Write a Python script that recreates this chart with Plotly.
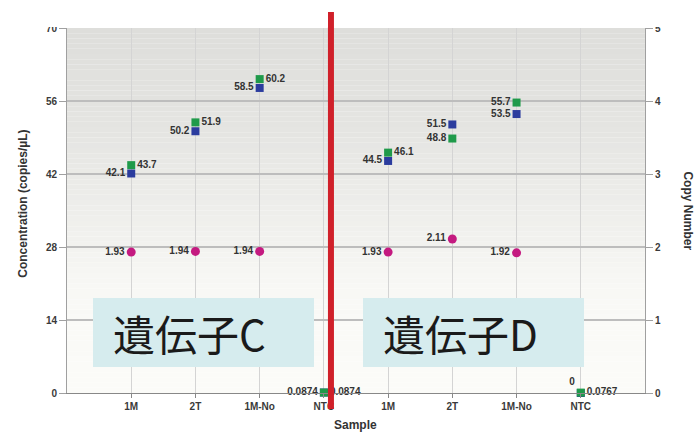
import plotly.graph_objects as go

# Samples on the x axis (gene C block, then gene D block)
categories = ["1M", "2T", "1M-No", "NTC", "1M", "2T", "1M-No", "NTC"]

# Droplet concentrations (copies/µL)
green_conc = [43.7, 51.9, 60.2, 0.0874, 46.1, 48.8, 55.7, 0.0767]
blue_conc = [42.1, 50.2, 58.5, 0.0874, 44.5, 51.5, 53.5, 0]

# Copy number (right axis); none reported for NTC
copy_number = [1.93, 1.94, 1.94, None, 1.93, 2.11, 1.92, None]

# Concentration axis ticks and copy-number axis ticks
conc_ticks = [0, 14, 28, 42, 56, 70]
cn_ticks = [0, 1, 2, 3, 4, 5]

# Gene panel labels
gene_labels = ["遺伝子C", "遺伝子D"]

# label placement per point
green_pos = ["middle right"] * 4 + ["middle right", "middle left", "middle left", "middle right"]
blue_pos = ["middle left"] * 4 + ["middle left", "middle left", "middle left", "top left"]

GREEN = "#1f9a4a"
BLUE = "#2b3c9e"
MAGENTA = "#c41a80"
LABEL_FONT = dict(family="Liberation Sans", size=10, color="#333333", weight="bold")

xs = list(range(len(categories)))


def fmt(v):
    return f"{v:g}"


fig = go.Figure()

fig.add_trace(go.Scatter(
    x=xs, y=blue_conc, mode="markers+text",
    marker=dict(symbol="square", size=8, color=BLUE),
    text=[fmt(v) for v in blue_conc], textposition=blue_pos,
    textfont=LABEL_FONT, cliponaxis=False, showlegend=False,
))
fig.add_trace(go.Scatter(
    x=xs, y=green_conc, mode="markers+text",
    marker=dict(symbol="square", size=8, color=GREEN),
    text=[fmt(v) for v in green_conc], textposition=green_pos,
    textfont=LABEL_FONT, cliponaxis=False, showlegend=False,
))
cn_x = [x for x, v in zip(xs, copy_number) if v is not None]
cn_y = [v for v in copy_number if v is not None]
fig.add_trace(go.Scatter(
    x=cn_x, y=cn_y, yaxis="y2", mode="markers+text",
    marker=dict(symbol="circle", size=9, color=MAGENTA),
    text=[fmt(v) for v in cn_y], textposition="middle left",
    textfont=LABEL_FONT, cliponaxis=False, showlegend=False,
))

# plot-area shading: grey at the top fading to near white at the bottom
shapes = []
stops = [(0, 251), (14, 250), (22, 247), (30, 241), (40, 235), (50, 229), (60, 225), (70, 222)]


def grey_at(y):
    for (y0, g0), (y1, g1) in zip(stops, stops[1:]):
        if y0 <= y <= y1:
            return g0 + (g1 - g0) * (y - y0) / (y1 - y0)
    return stops[-1][1]


step = 1.0
y = 0.0
while y < 70:
    g = grey_at(y + step / 2)
    c = f"rgb({g:.0f},{g:.0f},{g - 3:.0f})"
    shapes.append(dict(type="rect", xref="x", yref="y", x0=-1, x1=8, y0=y, y1=y + step,
                       fillcolor=c, line=dict(width=0), layer="below"))
    y += step

# gene panel boxes
box_spans = [(-0.595, 2.846), (3.609, 7.05)]
for x0, x1 in box_spans:
    shapes.append(dict(type="rect", xref="x", yref="y", x0=x0, x1=x1, y0=5.0, y1=18.2,
                       fillcolor="#d6ecee", line=dict(width=0), layer="above"))

# red divider between the two gene blocks
shapes.append(dict(type="line", xref="x", yref="paper", x0=3.11, x1=3.11, y0=-0.044, y1=1.044,
                   line=dict(color="#d0202a", width=6), layer="above"))

annotations = []

# blank strip along the top edge, either side of the divider
for x0, x1 in [(-0.12, 0.4516), (0.462, 1.12)]:
    annotations.append(dict(x=x0, y=1.0016, xref="paper", yref="paper", text=" ", showarrow=False,
                            xanchor="left", yanchor="bottom", width=(x1 - x0) * 578, height=30,
                            bgcolor="white", borderpad=0, borderwidth=0))

for (x0, _), label in zip(box_spans, gene_labels):
    annotations.append(dict(x=x0 + 0.28, y=11.6, xref="x", yref="y", text=label, showarrow=False,
                            xanchor="left", yanchor="middle",
                            font=dict(family="Noto Sans CJK JP", size=42, color="#1a1a1a")))

TITLE_FONT = dict(family="Liberation Sans", size=12, color="#333333", weight="bold")
annotations += [
    dict(x=-0.0765, y=0.518, xref="paper", yref="paper", text="Concentration (copies/µL)",
         textangle=-90, showarrow=False, font=TITLE_FONT, xanchor="center", yanchor="middle"),
    dict(x=1.0745, y=0.50, xref="paper", yref="paper", text="Copy Number",
         textangle=90, showarrow=False, font=TITLE_FONT, xanchor="center", yanchor="middle"),
    dict(x=0.499, y=-0.088, xref="paper", yref="paper", text="Sample",
         showarrow=False, font=TITLE_FONT, xanchor="center", yanchor="middle"),
]

TICK_FONT = dict(family="Liberation Sans", size=10, color="#3a3a3a", weight="bold")

fig.update_layout(
    width=695, height=433,
    margin=dict(l=67, r=50, t=28, b=40),
    paper_bgcolor="white", plot_bgcolor="white",
    shapes=shapes, annotations=annotations,
    xaxis=dict(
        range=[-1, 8], tickvals=xs, ticktext=categories, tickfont=TICK_FONT,
        showgrid=True, gridcolor="#d4d4d4", gridwidth=1,
        showline=True, linecolor="#888888", linewidth=1,
        ticks="outside", ticklen=4, tickcolor="#888888", zeroline=False,
    ),
    yaxis=dict(
        range=[0, 70], tickvals=conc_ticks, tickfont=TICK_FONT,
        showgrid=True, gridcolor="#bdbdbd", gridwidth=1.5,
        showline=True, linecolor="#a0a0a0", linewidth=1,
        ticks="outside", ticklen=7, tickcolor="#a0a0a0", zeroline=False,
    ),
    yaxis2=dict(
        range=[0, 5], tickvals=cn_ticks, tickfont=TICK_FONT, overlaying="y", side="right",
        showgrid=False, showline=True, linecolor="#a0a0a0", linewidth=1,
        ticks="outside", ticklen=7, tickcolor="#a0a0a0", zeroline=False,
    ),
)

fig.write_html("out.html")
